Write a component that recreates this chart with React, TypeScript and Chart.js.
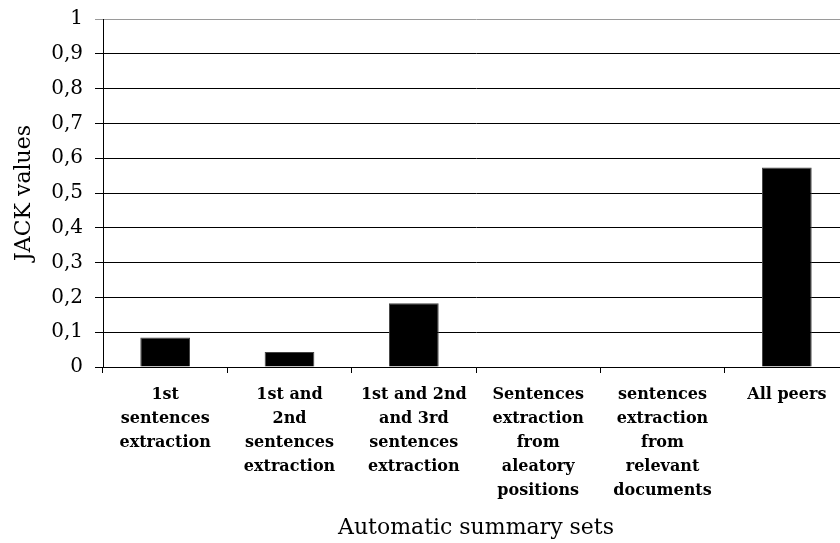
import React, { useEffect, useRef } from "react";
import { Chart, registerables } from "chart.js";

Chart.register(...registerables);

const categories: string[][] = [
  ["1st", "sentences", "extraction"],
  ["1st and", "2nd", "sentences", "extraction"],
  ["1st and 2nd", "and 3rd", "sentences", "extraction"],
  ["Sentences", "extraction", "from", "aleatory", "positions"],
  ["sentences", "extraction", "from", "relevant", "documents"],
  ["All peers"],
];

const jackValues: number[] = [0.085, 0.043, 0.183, 0, 0, 0.573];

const yTickLabels: string[] = ["0", "0,1", "0,2", "0,3", "0,4", "0,5", "0,6", "0,7", "0,8", "0,9", "1"];

const xTitle = "Automatic summary sets";
const yTitle = "JACK values";

const FONT = "'DejaVu Serif', 'Liberation Serif', serif";

export default function App() {
  const canvasRef = useRef<HTMLCanvasElement | null>(null);

  useEffect(() => {
    const canvas = canvasRef.current;
    if (!canvas) return;
    const chart = new Chart(canvas, {
      type: "bar",
      data: {
        labels: categories,
        datasets: [
          {
            data: jackValues,
            backgroundColor: "#000000",
            borderColor: "#444444",
            borderWidth: 1,
            barPercentage: 0.4,
            categoryPercentage: 1,
          },
        ],
      },
      options: {
        responsive: false,
        animation: false,
        devicePixelRatio: 1,
        layout: { padding: { top: 19, right: 1, bottom: 0, left: 0 } },
        plugins: {
          legend: { display: false },
          tooltip: { enabled: false },
        },
        scales: {
          x: {
            offset: true,
            grid: {
              offset: true,
              drawOnChartArea: false,
              drawTicks: true,
              tickLength: 6,
              color: "#000000",
              lineWidth: 1,
            },
            border: { display: true, color: "#000000", width: 1 },
            ticks: {
              color: "#000000",
              padding: 10,
              maxRotation: 0,
              autoSkip: false,
              font: { family: FONT, size: 16, weight: "bold", lineHeight: 1.5 },
            },
            title: {
              display: true,
              text: xTitle,
              color: "#000000",
              padding: { top: 0, bottom: 2 },
              font: { family: FONT, size: 22, weight: "normal" },
            },
            afterFit: (scale: any) => {
              scale.height = 543 - 367;
              scale.paddingLeft = 0;
              scale.paddingRight = 0;
            },
          },
          y: {
            min: 0,
            max: 1,
            grid: {
              color: (ctx: any) => (ctx.tick && ctx.tick.value === 1 ? "#9a9a9a" : "#000000"),
              lineWidth: 1,
              drawTicks: true,
              tickLength: 8,
            },
            border: { display: true, color: "#000000", width: 1 },
            ticks: {
              stepSize: 0.1,
              color: "#000000",
              padding: 12,
              font: { family: FONT, size: 20, weight: "normal" },
              callback: (_v: any, i: number) => yTickLabels[i],
            },
            title: {
              display: true,
              text: yTitle,
              color: "#000000",
              padding: { top: 11, bottom: 0 },
              font: { family: FONT, size: 22, weight: "normal" },
            },
            afterFit: (scale: any) => {
              scale.width = 103;
              scale.paddingTop = 0;
              scale.paddingBottom = 0;
            },
          },
        },
      },
    });
    return () => chart.destroy();
  }, []);

  return (
    <div
      style={{
        position: "fixed",
        left: 0,
        top: 0,
        width: 840,
        height: 543,
        overflow: "hidden",
        background: "#ffffff",
      }}
    >
      <canvas ref={canvasRef} width={850} height={543} style={{ display: "block", width: 850, height: 543 }} />
    </div>
  );
}
